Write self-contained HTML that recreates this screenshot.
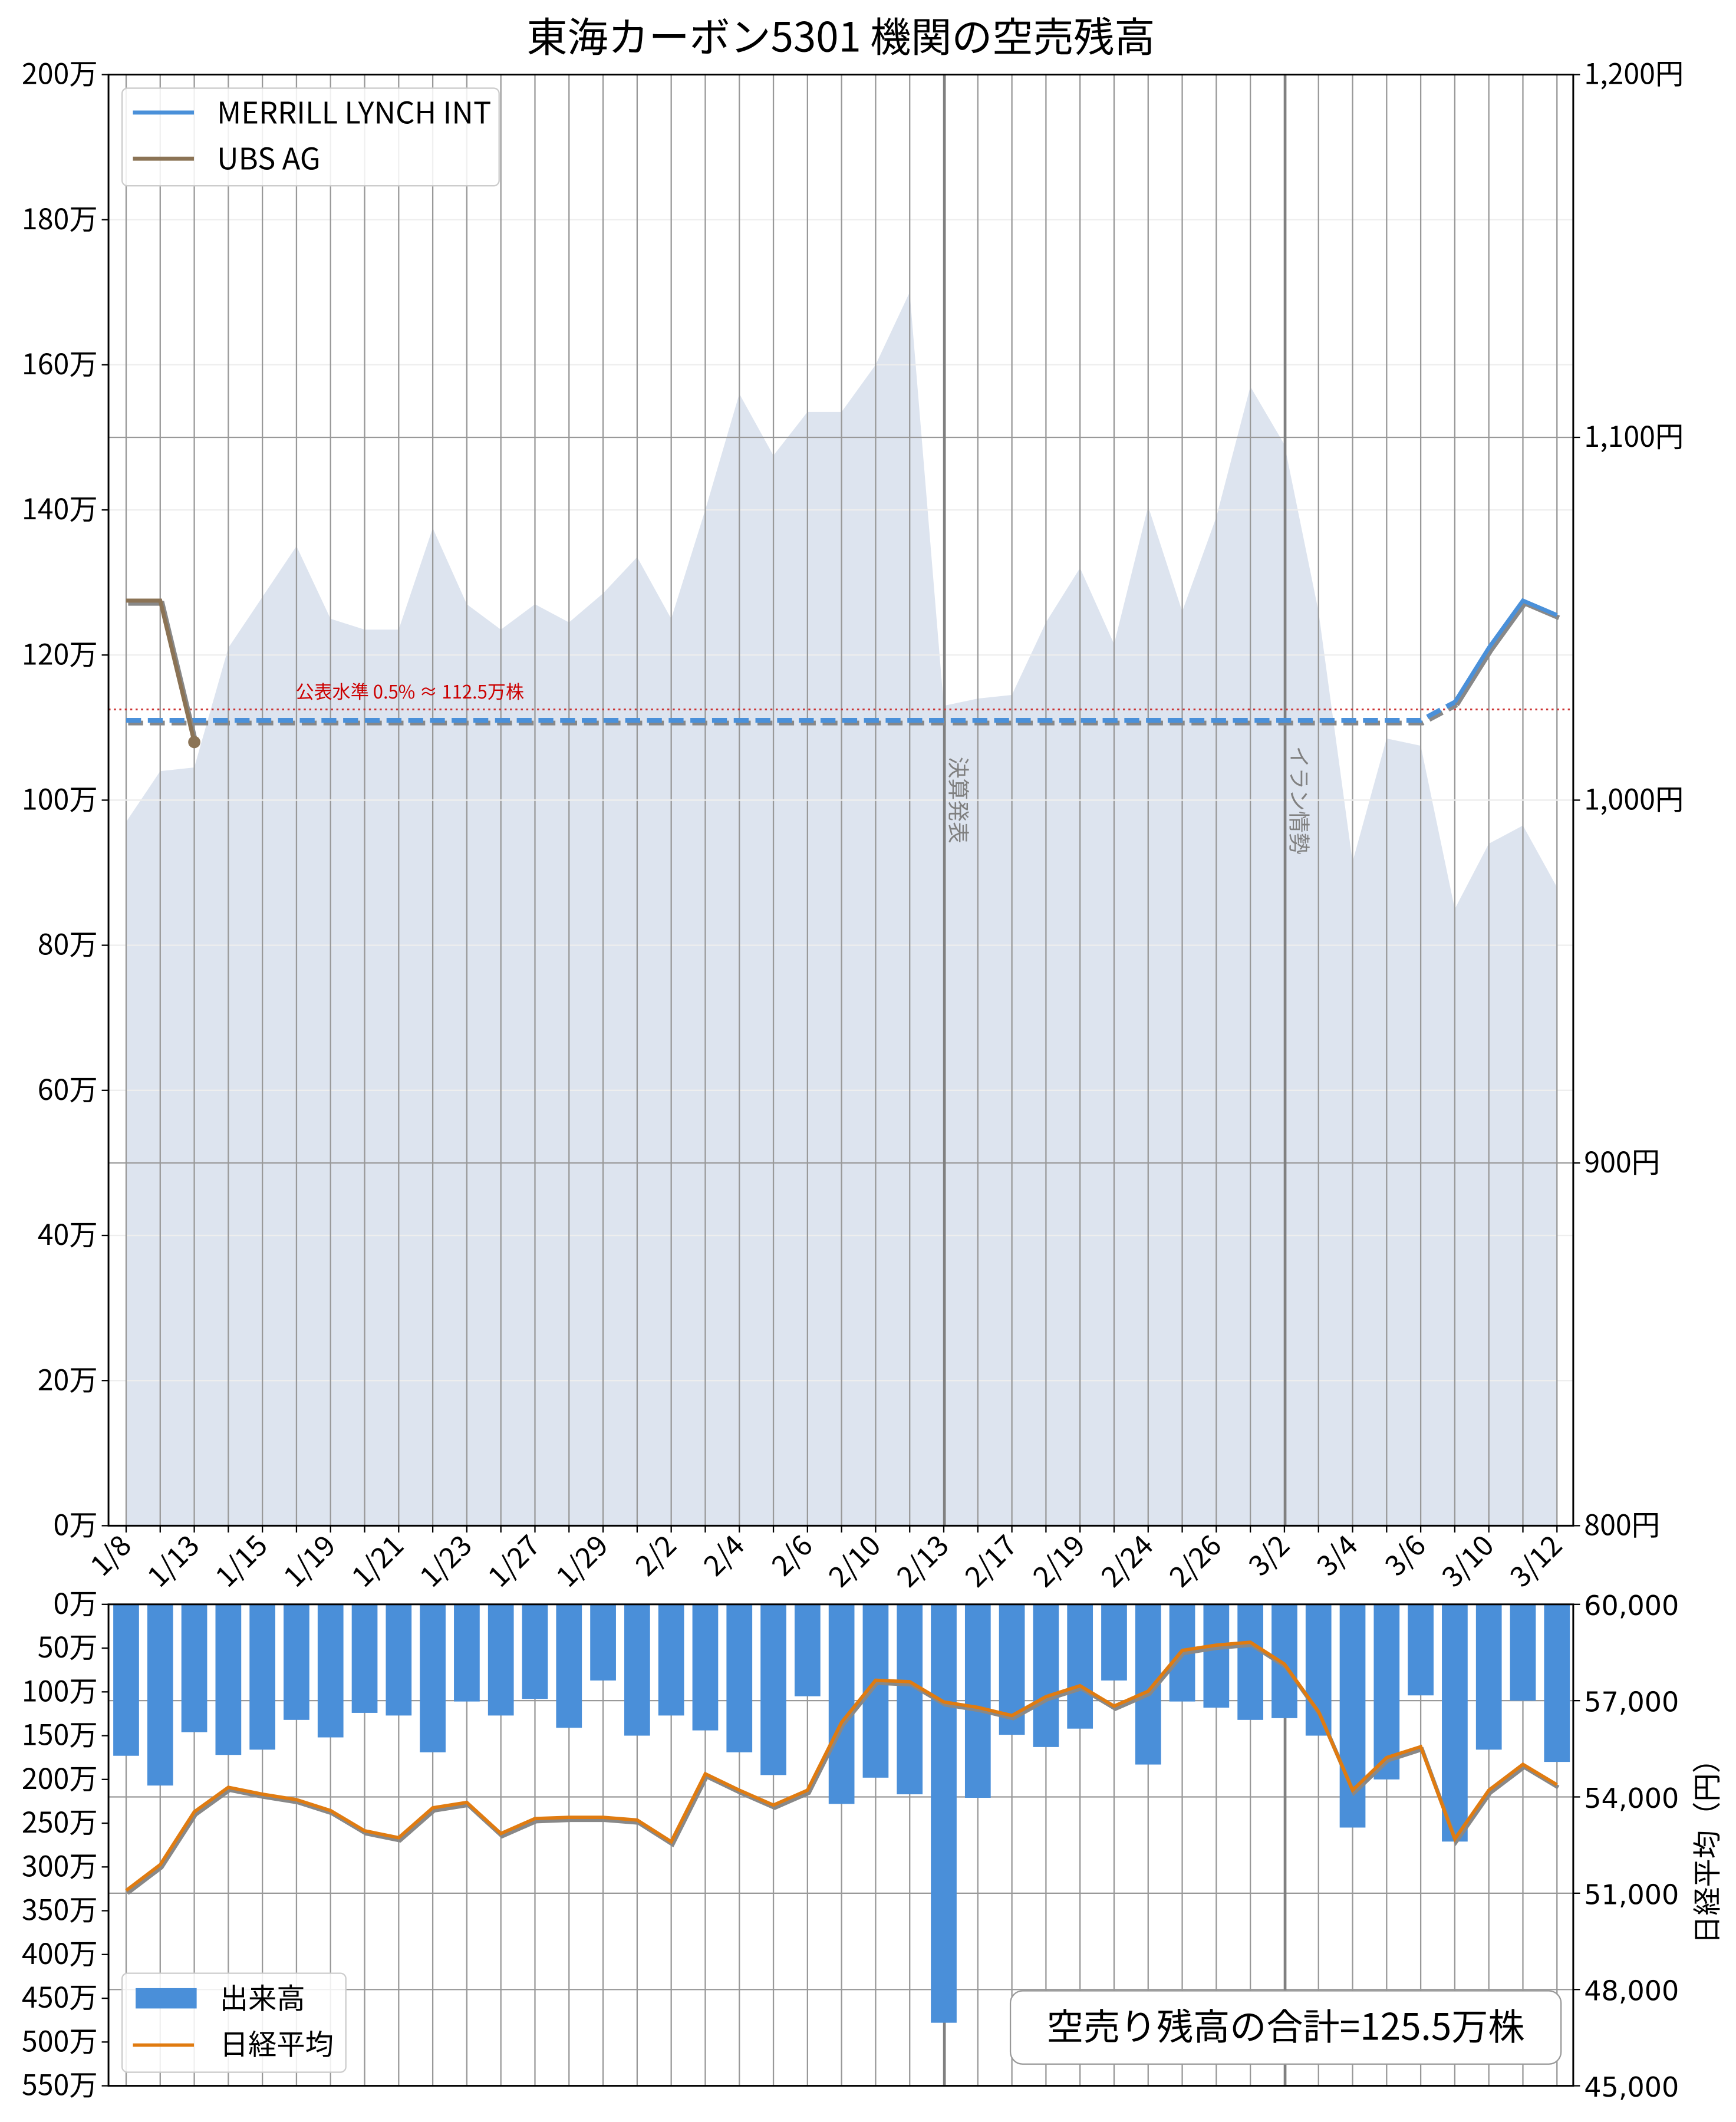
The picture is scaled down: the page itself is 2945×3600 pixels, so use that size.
<!DOCTYPE html>
<html><head><meta charset="utf-8"><style>
html,body{margin:0;padding:0;background:#fff}
svg{display:block}
text{font-family:"Noto Sans CJK JP","Liberation Sans",sans-serif}
</style></head><body>
<svg id="chart" width="2945" height="3600" viewBox="0 0 1280 1564.7" xmlns="http://www.w3.org/2000/svg"></svg>
<script>
const dates=["1/8","1/9","1/13","1/14","1/15","1/16","1/19","1/20","1/21","1/22","1/23","1/26","1/27","1/28","1/29","1/30","2/2","2/3","2/4","2/5","2/6","2/9","2/10","2/12","2/13","2/16","2/17","2/18","2/19","2/20","2/24","2/25","2/26","2/27","3/2","3/3","3/4","3/5","3/6","3/9","3/10","3/11","3/12"];
const price=[994,1008,1009,1042,1056,1070,1050,1047,1047,1075,1054,1047,1054,1049,1057,1067,1050,1080,1112,1095,1107,1107,1120,1140,1026,1028,1029,1049,1064,1043,1081,1052,1078,1114,1098,1052,983,1017,1015,970,988,993,976];
const merrill=[111,111,111,111,111,111,111,111,111,111,111,111,111,111,111,111,111,111,111,111,111,111,111,111,111,111,111,111,111,111,111,111,111,111,111,111,111,111,111,113.5,121,127.5,125.5];
const ubs=[127.5,127.5,108];
const volume=[173,207,146,172,166,132,152,124,127,169,111,127,108,141,87,150,127,144,169,195,105,228,198,217,478,221,149,163,142,87,183,111,118,132,130,150,255,200,104,271,166,110,180];
const nikkei=[51085,51890,53535,54300,54085,53915,53575,52945,52730,53660,53830,52860,53325,53365,53365,53280,52605,54720,54210,53745,54210,56325,57635,57590,56960,56790,56535,57125,57465,56830,57295,58565,58730,58820,58140,56660,54210,55225,55565,52690,54210,55015,54380];
const leftTicksTop=[0,20,40,60,80,100,120,140,160,180,200];
const rightTicksTop=[800,900,1000,1100,1200];
const leftTicksBot=[0,50,100,150,200,250,300,350,400,450,500,550];
const rightTicksBot=[45000,48000,51000,54000,57000,60000];
const threshold=112.5;
const events=[[24,"決算発表"],[34,"イラン情勢"]];

const svg=document.getElementById('chart');
const NS="http://www.w3.org/2000/svg";
function mk(tag,attrs,parent){const e=document.createElementNS(NS,tag);for(const k in attrs)e.setAttribute(k,attrs[k]);(parent||svg).appendChild(e);return e;}
const L=80,R=1160,T1=55,B1=1125,T2=1183,B2=1538;
const X=i=>93+i*(1148-93)/42;
const yL1=v=>B1-(v/200)*(B1-T1);
const yR1=v=>B1-((v-800)/400)*(B1-T1);
const yL2=v=>T2+(v/550)*(B2-T2);
const yR2=v=>B2-((v-45000)/15000)*(B2-T2);
const pts=(arr,fx,fy)=>arr.map((v,i)=>fx(i)+","+fy(v)).join(" ");

let t=mk('text',{x:620,y:38,'font-size':30,'text-anchor':'middle'});t.textContent="東海カーボン5301 機関の空売残高";



let g1=mk('g',{});


let fill=mk('polygon',{points:X(0)+","+B1+" "+pts(price,X,yR1)+" "+X(price.length-1)+","+B1,fill:'#dde4ef'},g1);


leftTicksTop.forEach(v=>{const gl=mk('line',{x1:L,x2:R,y1:yL1(v),y2:yL1(v),stroke:'#eeeeee','stroke-width':1},g1);

});
dates.forEach((d,i)=>{const vl=mk('line',{x1:X(i),x2:X(i),y1:T1,y2:B1,stroke:'#999','stroke-width':1},g1);

});
rightTicksTop.forEach(v=>{if(v==800||v==1200)return;const gl=mk('line',{x1:L,x2:R,y1:yR1(v),y2:yR1(v),stroke:v==1000?'#eeeeee':'#999','stroke-width':1},g1);

});
events.forEach(([i,lab])=>{const el=mk('line',{x1:X(i)+0.5,x2:X(i)+0.5,y1:T1,y2:B1,stroke:'#808080','stroke-width':2},g1);


const et=mk('text',{x:0,y:0,'font-size':16,fill:'#808080','text-anchor':'middle',transform:`translate(${X(i)+5},590) rotate(90)`},g1);et.textContent=lab;

});
let th=mk('line',{x1:L,x2:R,y1:yL1(threshold),y2:yL1(threshold),stroke:'#cc3333','stroke-width':1.3,'stroke-dasharray':'1.5 2.5'},g1);


let tt=mk('text',{x:218,y:yL1(threshold)-8,'font-size':13.5,fill:'#cc0000'},g1);tt.textContent="公表水準 0.5% ≈ 112.5万株";


const dashEnd=40;
const mDash=merrill.slice(0,dashEnd),mSolid=merrill.slice(dashEnd-1);
const XS=i=>X(i+dashEnd-1);
mk('polyline',{points:pts(mDash,X,yL1),fill:'none',stroke:'#888','stroke-width':3.5,'stroke-dasharray':'11 5',transform:'translate(1.5,2)'},g1);
mk('polyline',{points:pts(mSolid,XS,yL1),fill:'none',stroke:'#888','stroke-width':3.5,transform:'translate(1.5,2)'},g1);
let md=mk('polyline',{points:pts(mDash,X,yL1),fill:'none',stroke:'#4a90d9','stroke-width':3.5,'stroke-dasharray':'11 5'},g1);


let ms=mk('polyline',{points:pts(mSolid,XS,yL1),fill:'none',stroke:'#4a90d9','stroke-width':3},g1);


mk('polyline',{points:pts(ubs,X,yL1),fill:'none',stroke:'#888','stroke-width':3.5,transform:'translate(1.5,2)'},g1);
let ub=mk('polyline',{points:pts(ubs,X,yL1),fill:'none',stroke:'#8b7355','stroke-width':3},g1);


let ud=mk('circle',{cx:X(ubs.length-1),cy:yL1(ubs[ubs.length-1]),r:4.5,fill:'#8b7355'},g1);


mk('rect',{x:L,y:T1,width:R-L,height:B1-T1,fill:'none',stroke:'#000','stroke-width':1.3},g1);
leftTicksTop.forEach(v=>{mk('line',{x1:L-5,x2:L,y1:yL1(v),y2:yL1(v),stroke:'#000'},g1);
const tx=mk('text',{x:L-8,y:yL1(v)+7,'font-size':21,'text-anchor':'end'},g1);tx.textContent=v+"万";

});
rightTicksTop.forEach(v=>{mk('line',{x1:R,x2:R+5,y1:yR1(v),y2:yR1(v),stroke:'#000'},g1);
const tx=mk('text',{x:R+8,y:yR1(v)+7,'font-size':21},g1);tx.textContent=v.toLocaleString('en-US')+"円";

});
dates.forEach((d,i)=>{mk('line',{x1:X(i),x2:X(i),y1:B1,y2:B1+5,stroke:'#000'},g1);
if(i%2==0){const tx=mk('text',{x:0,y:0,'font-size':21,'text-anchor':'end',transform:`translate(${X(i)+5},${B1+16}) rotate(-45)`},g1);tx.textContent=d;

}});
let lg=mk('g',{},g1);


mk('rect',{x:90,y:65,width:278,height:72,rx:4,fill:'#fff','fill-opacity':0.85,stroke:'#ccc'},lg);
mk('line',{x1:98,x2:143,y1:83,y2:83,stroke:'#4a90d9','stroke-width':3},lg);
mk('line',{x1:98,x2:143,y1:117,y2:117,stroke:'#8b7355','stroke-width':3},lg);
let l1=mk('text',{x:160,y:91,'font-size':22},lg);l1.textContent="MERRILL LYNCH INT";
let l2=mk('text',{x:160,y:125,'font-size':22},lg);l2.textContent="UBS AG";

let g2=mk('g',{});


dates.forEach((d,i)=>{const vl=mk('line',{x1:X(i),x2:X(i),y1:T2,y2:B2,stroke:'#999','stroke-width':1},g2);

});
rightTicksBot.forEach(v=>{const gl=mk('line',{x1:L,x2:R,y1:yR2(v),y2:yR2(v),stroke:'#999','stroke-width':1},g2);

});
events.forEach(([i])=>{const el=mk('line',{x1:X(i)+0.5,x2:X(i)+0.5,y1:T2,y2:B2,stroke:'#808080','stroke-width':2},g2);

});
volume.forEach((v,i)=>{const b=mk('rect',{x:X(i)-9.5,y:T2,width:19,height:yL2(v)-T2,fill:'#4a8fd9'},g2);

});
mk('polyline',{points:pts(nikkei,X,yR2),fill:'none',stroke:'#888','stroke-width':3,transform:'translate(1,2)'},g2);
let nk=mk('polyline',{points:pts(nikkei,X,yR2),fill:'none',stroke:'#e07b10','stroke-width':2.5},g2);


mk('rect',{x:L,y:T2,width:R-L,height:B2-T2,fill:'none',stroke:'#000','stroke-width':1.3},g2);
leftTicksBot.forEach(v=>{mk('line',{x1:L-5,x2:L,y1:yL2(v),y2:yL2(v),stroke:'#000'},g2);
const tx=mk('text',{x:L-8,y:yL2(v)+7,'font-size':21,'text-anchor':'end'},g2);tx.textContent=v+"万";

});
rightTicksBot.forEach(v=>{mk('line',{x1:R,x2:R+5,y1:yR2(v),y2:yR2(v),stroke:'#000'},g2);
const tx=mk('text',{x:R+8,y:yR2(v)+8,'font-size':20,style:'font-family:"DejaVu Sans",sans-serif'},g2);tx.textContent=v.toLocaleString('en-US');

});
let ra=mk('text',{x:0,y:0,'font-size':21,'text-anchor':'middle',transform:'translate(1266,1360) rotate(-90)'},g2);ra.textContent="日経平均（円）";


let lg2=mk('g',{},g2);


mk('rect',{x:90,y:1455,width:165,height:73,rx:4,fill:'#fff','fill-opacity':0.85,stroke:'#ccc'},lg2);
mk('rect',{x:100,y:1466,width:45,height:15,fill:'#4a8fd9'},lg2);
mk('line',{x1:98,x2:143,y1:1508,y2:1508,stroke:'#e07b10','stroke-width':2.5},lg2);
let b1=mk('text',{x:162,y:1481,'font-size':21},lg2);b1.textContent="出来高";
let b2=mk('text',{x:162,y:1515,'font-size':21},lg2);b2.textContent="日経平均";
let tb=mk('g',{},g2);


mk('rect',{x:745,y:1468,width:406,height:54,rx:9,fill:'#fff',stroke:'#999','stroke-width':1},tb);
let tbt=mk('text',{x:948,y:1504,'font-size':27,'text-anchor':'middle'},tb);tbt.textContent="空売り残高の合計="+merrill[merrill.length-1]+"万株";
</script>
</body></html>
